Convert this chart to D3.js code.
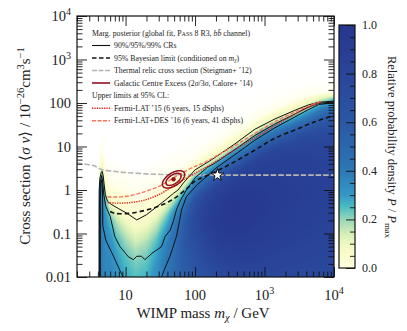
<!DOCTYPE html>
<html><head><meta charset="utf-8">
<script src="https://cdn.jsdelivr.net/npm/d3@7"></script>
<style>
body{margin:0;background:#fff;}
svg text{font-family:"Liberation Serif","Times New Roman",serif;fill:#222;}
</style></head><body>
<svg id="chart" width="407" height="331"></svg>
<script>
// ---------------- data ----------------
const massNodes = [4.18,4.4,4.6,4.9,5.3,6,7.5,10,14,20,28,38,50,70,100,150,220,350,550,900,1500,2500,4000,6500,10000];
const edgeSv    = [1.2,2.2,2.65,1.6,0.8,0.5,0.42,0.31,0.21,0.27,0.4,0.6,0.9,1.5,2.9,4.3,6.5,11,17,30,45,65,88,105,110];
const depthNodes = [-1.0,-0.5,-0.2,0,0.08,0.2,0.4,0.7,1.0,1.4,2.0,2.8,3.8,5.0];
const density = [
 [0,0.01,0.05,0.25,0.32,0.36,0.38,0.40,0.40,0.40,0.40,0.40,0.40,0.40],
 [0,0.01,0.05,0.20,0.28,0.33,0.36,0.38,0.40,0.40,0.40,0.40,0.40,0.40],
 [0,0.01,0.05,0.18,0.25,0.30,0.33,0.36,0.38,0.38,0.38,0.38,0.38,0.38],
 [0,0.01,0.04,0.15,0.20,0.25,0.30,0.33,0.35,0.36,0.36,0.36,0.36,0.36],
 [0,0.01,0.04,0.12,0.17,0.22,0.28,0.32,0.34,0.35,0.35,0.35,0.35,0.35],
 [0,0.01,0.03,0.08,0.12,0.18,0.25,0.30,0.33,0.35,0.35,0.35,0.35,0.35],
 [0.003,0.01,0.03,0.05,0.08,0.12,0.18,0.24,0.28,0.31,0.32,0.32,0.32,0.32],
 [0.004,0.012,0.03,0.045,0.06,0.09,0.14,0.20,0.24,0.27,0.28,0.28,0.28,0.28],
 [0.004,0.012,0.03,0.045,0.06,0.08,0.12,0.18,0.22,0.25,0.26,0.26,0.26,0.26],
 [0.004,0.012,0.03,0.045,0.06,0.08,0.13,0.19,0.23,0.26,0.27,0.27,0.27,0.27],
 [0.003,0.01,0.03,0.05,0.07,0.10,0.16,0.23,0.28,0.32,0.33,0.33,0.33,0.33],
 [0.003,0.01,0.03,0.06,0.09,0.14,0.22,0.30,0.36,0.40,0.41,0.41,0.41,0.41],
 [0.002,0.008,0.025,0.07,0.11,0.18,0.29,0.39,0.44,0.47,0.48,0.48,0.48,0.48],
 [0.001,0.005,0.02,0.08,0.14,0.24,0.38,0.52,0.58,0.60,0.56,0.52,0.50,0.50],
 [0,0.003,0.015,0.09,0.16,0.28,0.46,0.66,0.74,0.74,0.66,0.56,0.50,0.50],
 [0,0.003,0.015,0.10,0.18,0.30,0.50,0.76,0.86,0.88,0.80,0.65,0.55,0.55],
 [0,0.003,0.015,0.10,0.18,0.32,0.52,0.80,0.90,0.95,0.90,0.75,0.60,0.55],
 [0,0.003,0.015,0.10,0.18,0.33,0.52,0.82,0.92,0.98,0.95,0.82,0.66,0.60],
 [0,0.003,0.015,0.10,0.18,0.33,0.52,0.82,0.90,0.96,0.97,0.86,0.70,0.62],
 [0,0.002,0.015,0.10,0.18,0.33,0.50,0.80,0.88,0.93,0.95,0.88,0.74,0.65],
 [0,0.002,0.012,0.10,0.18,0.32,0.50,0.78,0.86,0.90,0.92,0.88,0.76,0.68],
 [0,0.002,0.012,0.10,0.18,0.30,0.50,0.75,0.84,0.88,0.90,0.86,0.77,0.70],
 [0,0.001,0.01,0.12,0.20,0.32,0.50,0.74,0.82,0.86,0.88,0.85,0.78,0.72],
 [0,0,0.01,0.20,0.30,0.42,0.56,0.74,0.80,0.84,0.86,0.84,0.78,0.72],
 [0,0,0.01,0.30,0.38,0.48,0.62,0.74,0.80,0.83,0.85,0.83,0.78,0.72]
];
const contour99 = [[4.15,0.01],[4.15,0.3],[4.17,1.0],[4.28,1.9],[4.45,2.5],[4.6,2.7],[4.75,2.2],[4.9,1.4],[5.1,0.8],[5.5,0.55],[6.2,0.47],[8,0.37],[10.5,0.29],[14.5,0.205],[20,0.27],[28,0.41],[38,0.6],[49,0.84],[57,1.0],[68,1.45],[100,2.9],[150,4.3],[194,5.6],[375,11.5],[728,25],[1412,43],[2740,68],[4260,90],[6000,104],[10000,110]];
const contour95 = [[4.25,0.01],[4.25,0.5],[4.33,1.5],[4.52,2.15],[4.68,1.6],[4.85,0.8],[5.2,0.42],[6.0,0.25],[7.0,0.085],[8.3,0.05],[11,0.029],[13,0.025],[14.5,0.03],[17,0.03],[19,0.025],[24,0.035],[33,0.05],[37,0.085],[44,0.12],[48.6,0.19],[54,0.35],[62,0.59],[75,1.0],[100,1.9],[150,3.3],[200,4.3],[375,8.5],[728,18],[1412,33],[2740,56],[4260,80],[6000,98],[10000,106]];
const contour90a = [[4.32,0.01],[4.33,0.6],[4.43,1.4],[4.53,1.7],[4.63,1.2],[4.68,0.5],[4.7,0.15],[5.2,0.07],[6.7,0.03],[8.0,0.016],[9.2,0.01]];
const contour90b = [[33,0.01],[38,0.018],[43.6,0.03],[54,0.085],[60,0.2],[64,0.35],[75,0.7],[106,1.3],[150,2.1],[200,3.2],[375,6.5],[728,14],[1412,27],[2740,48],[4260,70],[6000,92],[10000,102]];
const bayesLimit = [[6,0.32],[7,0.29],[11,0.29],[19,0.34],[33,0.45],[51,0.65],[80,1.15],[100,1.6],[194,2.6],[375,4.5],[728,8.3],[1412,15.5],[2740,24],[5300,37],[10000,52]];
const thermalRelic = [[2,4.2],[3,3.8],[3.6,3.55],[4.5,2.95],[6,2.75],[8,2.6],[11,2.5],[20,2.35],[33,2.28],[60,2.22],[100,2.2],[10000,2.2]];
const fermi15 = [[5.5,0.51],[7,0.5],[11,0.51],[19,0.59],[33,0.84],[51,1.3],[80,2.0],[138,3.2],[200,4.5],[375,8.5],[728,16],[1412,30],[2740,55],[4260,80],[6500,105]];
const fermiDes16 = [[5.5,0.70],[7,0.69],[11,0.73],[19,0.92],[33,1.3],[57,2.2],[100,3.5],[138,4.3],[200,6.0],[375,10.5],[728,20],[1412,37],[2740,62],[4260,85],[6500,108]];
const gceCentre = [49, 1.76];
const gceHalfWidthsDec = [[0.16,0.2],[0.11,0.14]]; // 3σ, 2σ (log10 decades)
const gceCorr = 0.55;
const bestFit = [210, 2.2];
const xTickVals = [10,100,1000,10000];
const xTickLabels = [["10"],["100"],["10","3"],["10","4"]];
const yTickVals = [1e4,1e3,100,10,1,0.1,0.01];
const yTickLabels = [["10","4"],["10","3"],["100"],["10"],["1"],["0.1"],["0.01"]];
const cbTicks = [0,0.2,0.4,0.6,0.8,1.0];
const cbTickLabels = ["0.0","0.2","0.4","0.6","0.8","1.0"];
// colour map stops
const cmapStops = [0,0.05,0.10,0.15,0.20,0.25,0.30,0.40,0.50,0.60,0.80,1.0];
const cmapColors = ["#ffffe0","#fbfccc","#eef8c0","#cdebb7","#97d6b9","#4dbdc3","#3498c6","#2d78b5","#2c66ad","#2b57a5","#29459a","#26368f"];

// ---------------- layout ----------------
const svg = d3.select("#chart");
const L=77, R=334, T=16, B=277;
const x = d3.scaleLog().domain([2,1e4]).range([L,R]);
const y = d3.scaleLog().domain([0.01,1e4]).range([B,T]);
const cmap = d3.scaleLinear().domain(cmapStops).range(cmapColors).clamp(true);

// ---------------- heatmap ----------------
(function(){
  const W=R-L, H=B-T;
  const cv=document.createElement("canvas"); cv.width=W; cv.height=H;
  const ctx=cv.getContext("2d");
  const img=ctx.createImageData(W,H);
  const lmN=massNodes.map(Math.log10), leN=edgeSv.map(Math.log10);
  for(let i=0;i<W;i++){
    const m=x.invert(L+i+0.5); if(m<massNodes[0]) continue;
    const lm=Math.log10(m);
    let k=d3.bisectRight(lmN,lm)-1; k=Math.max(0,Math.min(lmN.length-2,k));
    let t=(lm-lmN[k])/(lmN[k+1]-lmN[k]); t=Math.max(0,Math.min(1,t));
    const edge=leN[k]*(1-t)+leN[k+1]*t;
    for(let j=0;j<H;j++){
      const ls=Math.log10(y.invert(T+j+0.5));
      const d=edge-ls;
      let P;
      if(d<=depthNodes[0]) P=0;
      else{
        let q=d3.bisectRight(depthNodes,d)-1; q=Math.max(0,Math.min(depthNodes.length-2,q));
        let u=(d-depthNodes[q])/(depthNodes[q+1]-depthNodes[q]); u=Math.max(0,Math.min(1,u));
        const a=density[k][q]*(1-u)+density[k][q+1]*u;
        const b=density[k+1][q]*(1-u)+density[k+1][q+1]*u;
        P=a*(1-t)+b*t;
      }
      if(P<=0) continue;
      const c=d3.rgb(cmap(P));
      const o=(j*W+i)*4;
      img.data[o]=c.r; img.data[o+1]=c.g; img.data[o+2]=c.b;
      img.data[o+3]=Math.round(255*Math.min(1,P/0.02));
    }
  }
  ctx.putImageData(img,0,0);
  svg.append("image").attr("href",cv.toDataURL())
    .attr("x",x(2)).attr("y",y(1e4)).attr("width",x(1e4)-x(2)).attr("height",y(0.01)-y(1e4))
    .attr("preserveAspectRatio","none");
})();

// ---------------- lines ----------------
const line = d3.line().x(d=>x(d[0])).y(d=>y(d[1]));
const smooth = d3.line().x(d=>x(d[0])).y(d=>y(d[1])).curve(d3.curveCatmullRom.alpha(0.5));
svg.append("clipPath").attr("id","plotclip").append("rect").attr("x",L).attr("y",T).attr("width",R-L).attr("height",B-T);
const gp = svg.append("g").attr("clip-path","url(#plotclip)");
gp.append("path").datum(thermalRelic).attr("d",smooth).attr("fill","none").attr("stroke","#b4b4b4").attr("stroke-width",1.6).attr("stroke-dasharray","5.5,2");
[contour99,contour95,contour90a,contour90b].forEach(c=>{
  gp.append("path").datum(c).attr("d",line).attr("fill","none").attr("stroke","#111").attr("stroke-width",1).attr("stroke-linejoin","round");
});
gp.append("path").datum(bayesLimit).attr("d",smooth).attr("fill","none").attr("stroke","#111").attr("stroke-width",1.6).attr("stroke-dasharray","4.5,3");
gp.append("path").datum(fermiDes16).attr("d",smooth).attr("fill","none").attr("stroke","#f8765c").attr("stroke-width",1.4).attr("stroke-dasharray","4,1.8");
gp.append("path").datum(fermi15).attr("d",smooth).attr("fill","none").attr("stroke","#e0211c").attr("stroke-width",1.4).attr("stroke-dasharray","1.3,1.1");
// GCE ellipses
const gceColor="#93121e";
gceHalfWidthsDec.forEach(h=>{
  const pts=d3.range(0,361,6).map(a=>{const r=a*Math.PI/180;
    const dx=h[0]*Math.cos(r), dy=h[1]*(gceCorr*Math.cos(r)+Math.sqrt(1-gceCorr*gceCorr)*Math.sin(r));
    return [gceCentre[0]*Math.pow(10,dx), gceCentre[1]*Math.pow(10,dy)];});
  gp.append("path").datum(pts).attr("d",line).attr("fill","none").attr("stroke",gceColor).attr("stroke-width",1.5);
});
gp.append("circle").attr("cx",x(gceCentre[0])).attr("cy",y(gceCentre[1])).attr("r",2.2).attr("fill",gceColor);
gp.append("path").attr("d",d3.symbol(d3.symbolStar).size(50)()).attr("transform",`translate(${x(bestFit[0])},${y(bestFit[1])})`)
  .attr("fill","#fff").attr("stroke","#111").attr("stroke-width",1);

// ---------------- axes ----------------
const minorX=[], minorY=[];
for(let e=0;e<4;e++) for(let k=2;k<10;k++){const v=k*Math.pow(10,e); if(v>=2&&v<=1e4) minorX.push(v);}
for(let e=-2;e<4;e++) for(let k=2;k<10;k++) minorY.push(k*Math.pow(10,e));
function ax(gen,tr){
  const g=svg.append("g").attr("transform",tr).call(gen);
  g.select(".domain").remove(); g.selectAll("line").attr("stroke","#111").attr("stroke-width",0.9);
  return g;
}
ax(d3.axisBottom(x).tickValues(xTickVals).tickSize(-10).tickFormat(""),`translate(0,${B})`);
ax(d3.axisBottom(x).tickValues(minorX).tickSize(-5.5).tickFormat(""),`translate(0,${B})`);
ax(d3.axisTop(x).tickValues(xTickVals).tickSize(-10).tickFormat(""),`translate(0,${T})`);
ax(d3.axisTop(x).tickValues(minorX).tickSize(-5.5).tickFormat(""),`translate(0,${T})`);
ax(d3.axisLeft(y).tickValues(yTickVals).tickSize(-10).tickFormat(""),`translate(${L},0)`);
ax(d3.axisLeft(y).tickValues(minorY).tickSize(-5.5).tickFormat(""),`translate(${L},0)`);
ax(d3.axisRight(y).tickValues(yTickVals).tickSize(-10).tickFormat(""),`translate(${R},0)`);
ax(d3.axisRight(y).tickValues(minorY).tickSize(-5.5).tickFormat(""),`translate(${R},0)`);
svg.append("rect").attr("x",L).attr("y",T).attr("width",R-L).attr("height",B-T).attr("fill","none").attr("stroke","#111").attr("stroke-width",1.2);

function rich(sel, parts, fs){
  parts.forEach(p=>{
    const ts=sel.append("tspan").text(p.t);
    if(p.it) ts.attr("font-style","italic");
    if(p.sup){ts.attr("font-size",fs*0.7).attr("dy",-fs*0.38); }
    if(p.sub){ts.attr("font-size",fs*0.7).attr("dy",fs*0.22); }
    if(p.sc){ts.attr("font-size",fs*0.78);}
    if(p.back){ts.attr("dy",p.back);}
  });
}
// tick labels
xTickVals.forEach((v,i)=>{
  const lab=xTickLabels[i];
  const t=svg.append("text").attr("x",x(v)).attr("y",300).attr("text-anchor","middle").attr("font-size",14.5);
  if(lab.length===1) t.text(lab[0]); else rich(t,[{t:lab[0]},{t:lab[1],sup:true}],14.5);
});
yTickVals.forEach((v,i)=>{
  const lab=yTickLabels[i];
  const t=svg.append("text").attr("x",71).attr("y",y(v)+5).attr("text-anchor","end").attr("font-size",14.5);
  if(lab.length===1) t.text(lab[0]); else rich(t,[{t:lab[0]},{t:lab[1],sup:true}],14.5);
});
// axis titles
const xt=svg.append("text").attr("x",203).attr("y",318).attr("text-anchor","middle").attr("font-size",15);
rich(xt,[{t:"WIMP mass "},{t:"m",it:true},{t:"χ",it:true,sub:true},{t:" / GeV",back:-15*0.22}],15);
const yt=svg.append("text").attr("transform","translate(30,146) rotate(-90)").attr("text-anchor","middle").attr("font-size",15);
rich(yt,[{t:"Cross section ⟨"},{t:"σ v",it:true},{t:"⟩ / 10"},{t:"−26",sup:true},{t:"cm",back:15*0.38},{t:"3",sup:true},{t:"s",back:15*0.38},{t:"−1",sup:true}],15);

// ---------------- colour bar ----------------
const cbL=339, cbR=355, cbT=25, cbB=268;
const cy=d3.scaleLinear().domain([0,1]).range([cbB,cbT]);
const grad=svg.append("defs").append("linearGradient").attr("id","cbgrad").attr("x1",0).attr("y1",1).attr("x2",0).attr("y2",0);
d3.range(0,1.0001,0.01).forEach(v=>grad.append("stop").attr("offset",v).attr("stop-color",cmap(v)));
svg.append("rect").attr("x",cbL).attr("y",cbT).attr("width",cbR-cbL).attr("height",cbB-cbT).attr("fill","url(#cbgrad)");
ax(d3.axisRight(cy).tickValues(cbTicks).tickSize(-9).tickFormat(""),`translate(${cbR},0)`);
ax(d3.axisRight(cy).tickValues(d3.range(0.05,1,0.05).filter(v=>Math.abs(v*5-Math.round(v*5))>0.01)).tickSize(-5).tickFormat(""),`translate(${cbR},0)`);
svg.append("rect").attr("x",cbL).attr("y",cbT).attr("width",cbR-cbL).attr("height",cbB-cbT).attr("fill","none").attr("stroke","#111").attr("stroke-width",1.2);
cbTicks.forEach((v,i)=>svg.append("text").attr("x",362).attr("y",cy(v)+4).attr("font-size",12).text(cbTickLabels[i]));
const ct=svg.append("text").attr("transform","translate(388,147) rotate(90)").attr("text-anchor","middle").attr("font-size",12.5);
rich(ct,[{t:"Relative probability density "},{t:"P",it:true},{t:" / "},{t:"P",it:true},{t:"max",sub:true}],12.5);

// ---------------- legend ----------------
const lg=svg.append("g");
const lfs=7.8, lx=92, lsx0=92, lsx1=110, ltx=114;
let t0=lg.append("text").attr("x",lx).attr("y",35.6).attr("font-size",lfs);
rich(t0,[{t:"Marg. posterior (global fit, P"},{t:"ASS",sc:true},{t:" 8 R3, "},{t:"b",it:true},{t:"b̄",it:true},{t:" channel)"}],lfs);
const legendItems=[
 {y:45.5, stroke:"#111", w:1.1, dash:null, p:[{t:"90%/95%/99% CRs"}]},
 {y:58, stroke:"#111", w:1.6, dash:"4.5,2.5", p:[{t:"95% Bayesian limit (conditioned on "},{t:"m",it:true},{t:"χ",it:true,sub:true},{t:")",back:-lfs*0.22}]},
 {y:70.5, stroke:"#b4b4b4", w:1.5, dash:"5,1.5", p:[{t:"Thermal relic cross section (Steigman+ ’12)"}]},
 {y:83, stroke:gceColor, w:1.6, dash:null, p:[{t:"Galactic Centre Excess (2"},{t:"σ",it:true},{t:"/3"},{t:"σ",it:true},{t:", Calore+ ’14)"}]},
 {y:108.3, stroke:"#e0211c", w:1.4, dash:"1.3,1.1", p:[{t:"Fermi-LAT ’15 (6 years, 15 dSphs)"}]},
 {y:120.8, stroke:"#f8765c", w:1.4, dash:"4,1.5", p:[{t:"Fermi-LAT+DES ’16 (6 years, 41 dSphs)"}]}
];
legendItems.forEach(it=>{
  lg.append("line").attr("x1",lsx0).attr("x2",lsx1).attr("y1",it.y).attr("y2",it.y).attr("stroke",it.stroke).attr("stroke-width",it.w).attr("stroke-dasharray",it.dash);
  const t=lg.append("text").attr("x",ltx).attr("y",it.y+2.6).attr("font-size",lfs); rich(t,it.p,lfs);
});
lg.append("text").attr("x",lx).attr("y",98.3).attr("font-size",lfs).text("Upper limits at 95% CL:");
</script>
</body></html>
